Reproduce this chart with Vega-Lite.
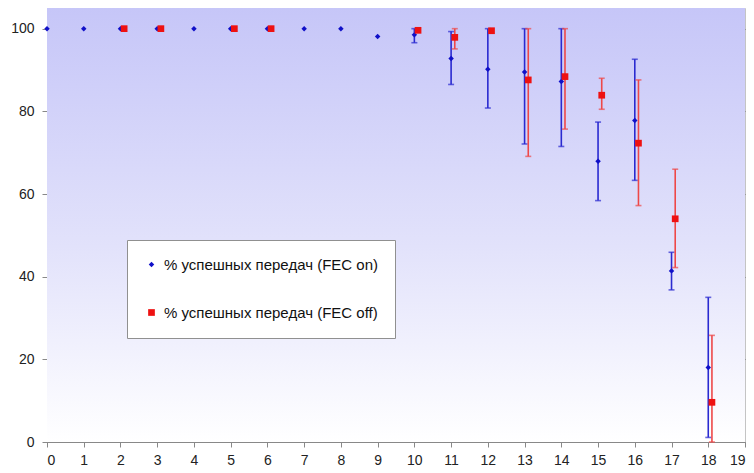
{
  "$schema": "https://vega.github.io/schema/vega-lite/v6.json",
  "width": 698,
  "height": 434,
  "autosize": "none",
  "padding": {"left": 47, "top": 8, "right": 9, "bottom": 31},
  "background": "white",
  "config": {
    "view": {"stroke": "#c4c4c4", "strokeWidth": 1},
    "font": "Liberation Sans",
    "axis": {
      "labelFont": "Liberation Sans",
      "labelFontSize": 14,
      "labelColor": "#222222",
      "domainColor": "#888888",
      "tickColor": "#888888",
      "tickSize": 5,
      "title": null
    },
    "legend": {
      "labelFont": "Liberation Sans",
      "labelFontSize": 15,
      "labelColor": "#111111"
    }
  },
  "datasets": {
    "pts": [
      {"x": 0, "series": "% успешных передач (FEC on)", "v": 100},
      {"x": 1, "series": "% успешных передач (FEC on)", "v": 100},
      {"x": 2, "series": "% успешных передач (FEC on)", "v": 100},
      {"x": 3, "series": "% успешных передач (FEC on)", "v": 100},
      {"x": 4, "series": "% успешных передач (FEC on)", "v": 100},
      {"x": 5, "series": "% успешных передач (FEC on)", "v": 100},
      {"x": 6, "series": "% успешных передач (FEC on)", "v": 100},
      {"x": 7, "series": "% успешных передач (FEC on)", "v": 100},
      {"x": 8, "series": "% успешных передач (FEC on)", "v": 100},
      {"x": 9, "series": "% успешных передач (FEC on)", "v": 98.1},
      {"x": 10, "series": "% успешных передач (FEC on)", "v": 98.5, "lo": 96.6, "hi": 100},
      {"x": 11, "series": "% успешных передач (FEC on)", "v": 92.8, "lo": 86.5, "hi": 99.3},
      {"x": 12, "series": "% успешных передач (FEC on)", "v": 90.2, "lo": 80.8, "hi": 100},
      {"x": 13, "series": "% успешных передач (FEC on)", "v": 89.5, "lo": 72.1, "hi": 100},
      {"x": 14, "series": "% успешных передач (FEC on)", "v": 87.2, "lo": 71.5, "hi": 100},
      {"x": 15, "series": "% успешных передач (FEC on)", "v": 67.9, "lo": 58.4, "hi": 77.4},
      {"x": 16, "series": "% успешных передач (FEC on)", "v": 77.8, "lo": 63.3, "hi": 92.6},
      {"x": 17, "series": "% успешных передач (FEC on)", "v": 41.4, "lo": 36.8, "hi": 45.9},
      {"x": 18, "series": "% успешных передач (FEC on)", "v": 18.0, "lo": 1.1, "hi": 35.0},
      {"x": 2, "series": "% успешных передач (FEC off)", "v": 100},
      {"x": 3, "series": "% успешных передач (FEC off)", "v": 100},
      {"x": 5, "series": "% успешных передач (FEC off)", "v": 100},
      {"x": 6, "series": "% успешных передач (FEC off)", "v": 100},
      {"x": 10, "series": "% успешных передач (FEC off)", "v": 99.6},
      {"x": 11, "series": "% успешных передач (FEC off)", "v": 97.9, "lo": 95.1, "hi": 100},
      {"x": 12, "series": "% успешных передач (FEC off)", "v": 99.5},
      {"x": 13, "series": "% успешных передач (FEC off)", "v": 87.6, "lo": 69.1, "hi": 100},
      {"x": 14, "series": "% успешных передач (FEC off)", "v": 88.4, "lo": 75.7, "hi": 100},
      {"x": 15, "series": "% успешных передач (FEC off)", "v": 83.9, "lo": 80.5, "hi": 88.0},
      {"x": 16, "series": "% успешных передач (FEC off)", "v": 72.3, "lo": 57.2, "hi": 87.6},
      {"x": 17, "series": "% успешных передач (FEC off)", "v": 54.0, "lo": 42.2, "hi": 66.0},
      {"x": 18, "series": "% успешных передач (FEC off)", "v": 9.6, "lo": 0, "hi": 25.8}
    ]
  },
  "layer": [
    {
      "data": {"values": [{}]},
      "mark": {
        "type": "rect",
        "color": {
          "gradient": "linear",
          "x1": 0, "y1": 0, "x2": 0, "y2": 1,
          "stops": [
            {"offset": 0, "color": "#c6c6f8"},
            {"offset": 0.55, "color": "#e2e2fb"},
            {"offset": 1, "color": "#ffffff"}
          ]
        }
      },
      "encoding": {}
    },
    {
      "data": {"name": "pts"},
      "transform": [
        {"calculate": "indexof(datum.series, 'off') >= 0 ? datum.x + 0.1 : datum.x", "as": "xp"}
      ],
      "encoding": {
        "x": {
          "field": "xp",
          "type": "quantitative",
          "scale": {"domain": [0, 19], "nice": false, "zero": false},
          "axis": {"values": [0,1,2,3,4,5,6,7,8,9,10,11,12,13,14,15,16,17,18,19], "grid": false, "labelPadding": 6, "format": "d"}
        },
        "y": {
          "field": "v",
          "type": "quantitative",
          "scale": {"domain": [0, 105], "nice": false},
          "axis": {"values": [0, 20, 40, 60, 80, 100], "grid": true, "gridDash": [2, 2], "gridColor": "#707070", "gridWidth": 1, "labelPadding": 8}
        }
      },
      "layer": [
        {
          "transform": [{"filter": "isValid(datum.lo) && indexof(datum.series, 'off') < 0"}],
          "mark": {"type": "rule", "strokeWidth": 1.6, "color": "#2a2ad0"},
          "encoding": {
            "y": {"field": "lo", "type": "quantitative"},
            "y2": {"field": "hi"}
          }
        },
        {
          "transform": [
            {"filter": "isValid(datum.lo) && indexof(datum.series, 'off') < 0"},
            {"fold": ["lo", "hi"], "as": ["end", "yv"]}
          ],
          "mark": {"type": "tick", "orient": "horizontal", "size": 6, "thickness": 1.6, "color": "#2a2ad0"},
          "encoding": {
            "y": {"field": "yv", "type": "quantitative"}
          }
        },
        {
          "transform": [{"filter": "isValid(datum.lo) && indexof(datum.series, 'off') >= 0"}],
          "mark": {"type": "rule", "strokeWidth": 1.6, "color": "#ee4848"},
          "encoding": {
            "y": {"field": "lo", "type": "quantitative"},
            "y2": {"field": "hi"}
          }
        },
        {
          "transform": [
            {"filter": "isValid(datum.lo) && indexof(datum.series, 'off') >= 0"},
            {"fold": ["lo", "hi"], "as": ["end", "yv"]}
          ],
          "mark": {"type": "tick", "orient": "horizontal", "size": 6, "thickness": 1.6, "color": "#ee4848"},
          "encoding": {
            "y": {"field": "yv", "type": "quantitative"}
          }
        },
        {
          "mark": {"type": "point", "filled": true, "opacity": 1, "strokeWidth": 0},
          "encoding": {
            "shape": {"field": "series", "type": "nominal", "scale": {"domain": ["% успешных передач (FEC on)", "% успешных передач (FEC off)"], "range": ["diamond", "square"]}},
            "size": {"field": "series", "type": "nominal", "scale": {"domain": ["% успешных передач (FEC on)", "% успешных передач (FEC off)"], "range": [30, 45]}},
            "fill": {
              "field": "series", "type": "nominal",
              "scale": {"domain": ["% успешных передач (FEC on)", "% успешных передач (FEC off)"], "range": ["#1010c8", "#ee1111"]},
              "legend": {
                "title": null,
                "orient": "none",
                "legendX": 80,
                "legendY": 232,
                "padding": 17,
                "rowPadding": 32,
                "fillColor": "white",
                "strokeColor": "#909090",
                "symbolStrokeWidth": 0,
                "labelOffset": 5,
                "labelLimit": 400,
                "values": ["% успешных передач (FEC on)", "% успешных передач (FEC off)"]
              }
            }
          }
        }
      ]
    }
  ]
}
